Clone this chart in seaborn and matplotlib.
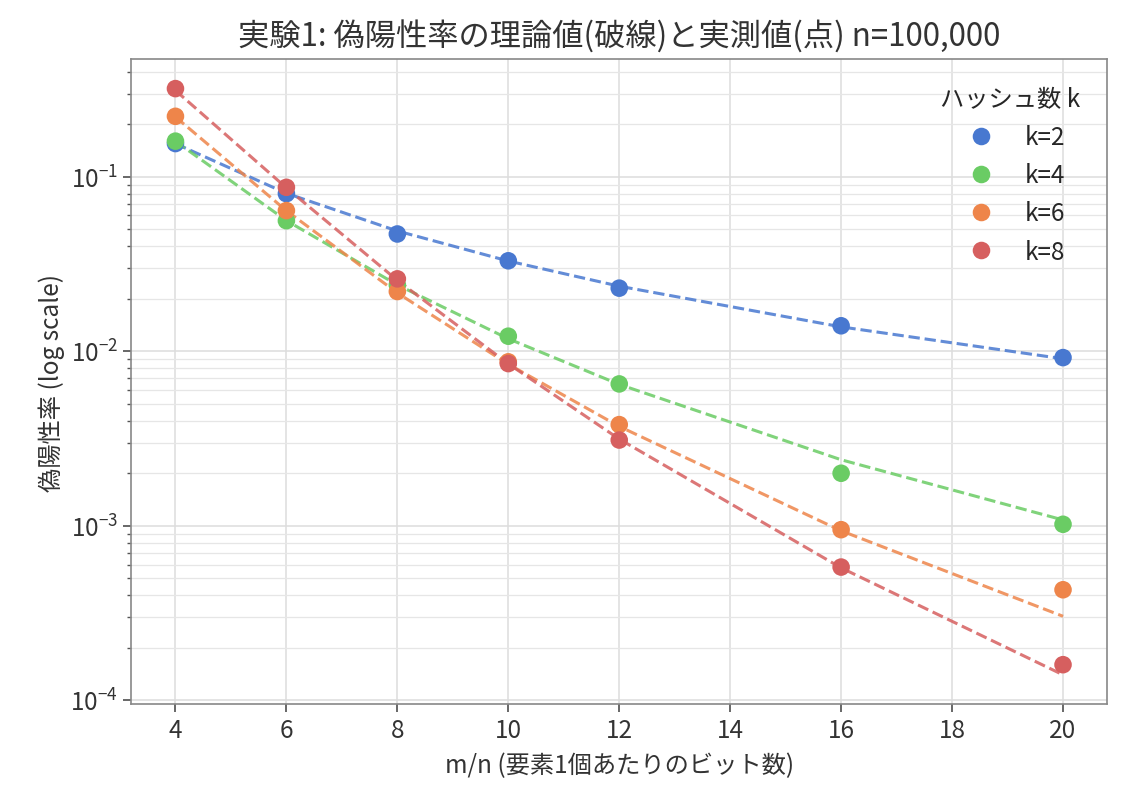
# -*- coding: utf-8 -*-
# Bloom filter: theoretical vs measured false positive rate

# %% libraries
import matplotlib
matplotlib.use('Agg')
import matplotlib.pyplot as plt
import seaborn as sns
import pandas as pd

# %% data
bits_per_elem = [4, 6, 8, 10, 12, 16, 20]
k_labels = ['k=2', 'k=4', 'k=6', 'k=8']

theory_k2 = [0.1548, 0.0804, 0.0489, 0.0329, 0.0236, 0.0138, 0.00906]
theory_k4 = [0.1597, 0.0561, 0.0240, 0.0118, 0.00646, 0.00239, 0.00108]
theory_k6 = [0.2203, 0.0639, 0.0216, 0.00843, 0.00371, 0.000936, 0.000303]
theory_k8 = [0.3123, 0.0864, 0.0255, 0.00848, 0.00314, 0.000574, 0.000140]

measured_k2 = [0.155, 0.080, 0.047, 0.033, 0.023, 0.0140, 0.0092]
measured_k4 = [0.160, 0.056, 0.024, 0.0122, 0.0065, 0.0020, 0.00102]
measured_k6 = [0.222, 0.064, 0.022, 0.0087, 0.0038, 0.00095, 0.00043]
measured_k8 = [0.320, 0.087, 0.026, 0.0085, 0.0031, 0.00058, 0.00016]

# %% long tables
rows_t, rows_m = [], []
for lab, th, me in zip(k_labels,
                       [theory_k2, theory_k4, theory_k6, theory_k8],
                       [measured_k2, measured_k4, measured_k6, measured_k8]):
    for x, t, m in zip(bits_per_elem, th, me):
        rows_t.append({'mn': x, 'fpr': t, 'k': lab})
        rows_m.append({'mn': x, 'fpr': m, 'k': lab})
df_t = pd.DataFrame(rows_t)
df_m = pd.DataFrame(rows_m)

# %% style
sns.set_theme(style='ticks')
plt.rcParams['font.family'] = ['Noto Sans CJK JP', 'DejaVu Sans']
plt.rcParams['axes.unicode_minus'] = False

muted = sns.color_palette('muted')
palette = {'k=2': muted[0], 'k=4': muted[2], 'k=6': muted[1], 'k=8': muted[3]}

# %% figure
fig = plt.figure(figsize=(11.3, 8.04), dpi=100)
ax = fig.add_axes([0.116, 0.123, 0.864, 0.802])

# theory (dashed)
sns.lineplot(data=df_t, x='mn', y='fpr', hue='k', palette=palette,
             hue_order=k_labels, linestyle='--', linewidth=2.2, alpha=0.85,
             legend=False, ax=ax)

# measured (points)
sns.scatterplot(data=df_m, x='mn', y='fpr', hue='k', palette=palette,
                hue_order=k_labels, s=160, linewidth=0, ax=ax, zorder=3)

# axes
ax.set_yscale('log')
ax.set_xticks([4, 6, 8, 10, 12, 14, 16, 18, 20])
ax.grid(True, which='major', color='#dddddd', linewidth=1.1)
ax.grid(True, which='minor', color='#e6e6e6', linewidth=0.9)
for sp in ax.spines.values():
    sp.set_color('#888888')
    sp.set_linewidth(1.2)
ax.tick_params(axis='both', which='major', labelsize=17.5, length=6,
               color='#555555', labelcolor='#333333')
ax.tick_params(axis='y', which='minor', length=3, color='#555555')
ax.set_xlabel('m/n (要素1個あたりのビット数)', fontsize=17.5, color='#333333',
              labelpad=6)
ax.set_ylabel('偽陽性率 (log scale)', fontsize=17.5, color='#333333')

# title
ax.set_title('実験1: 偽陽性率の理論値(破線)と実測値(点) n=100,000',
             fontsize=22.5, color='#333333', pad=10)

# legend
leg = ax.legend(title='ハッシュ数 k', loc='upper right', frameon=False,
                fontsize=17.5, title_fontsize=17.5, markerscale=1.0,
                handletextpad=0.8, labelspacing=0.5, borderaxespad=0.7)

# save plot
fig.savefig('out.png', dpi=100)
